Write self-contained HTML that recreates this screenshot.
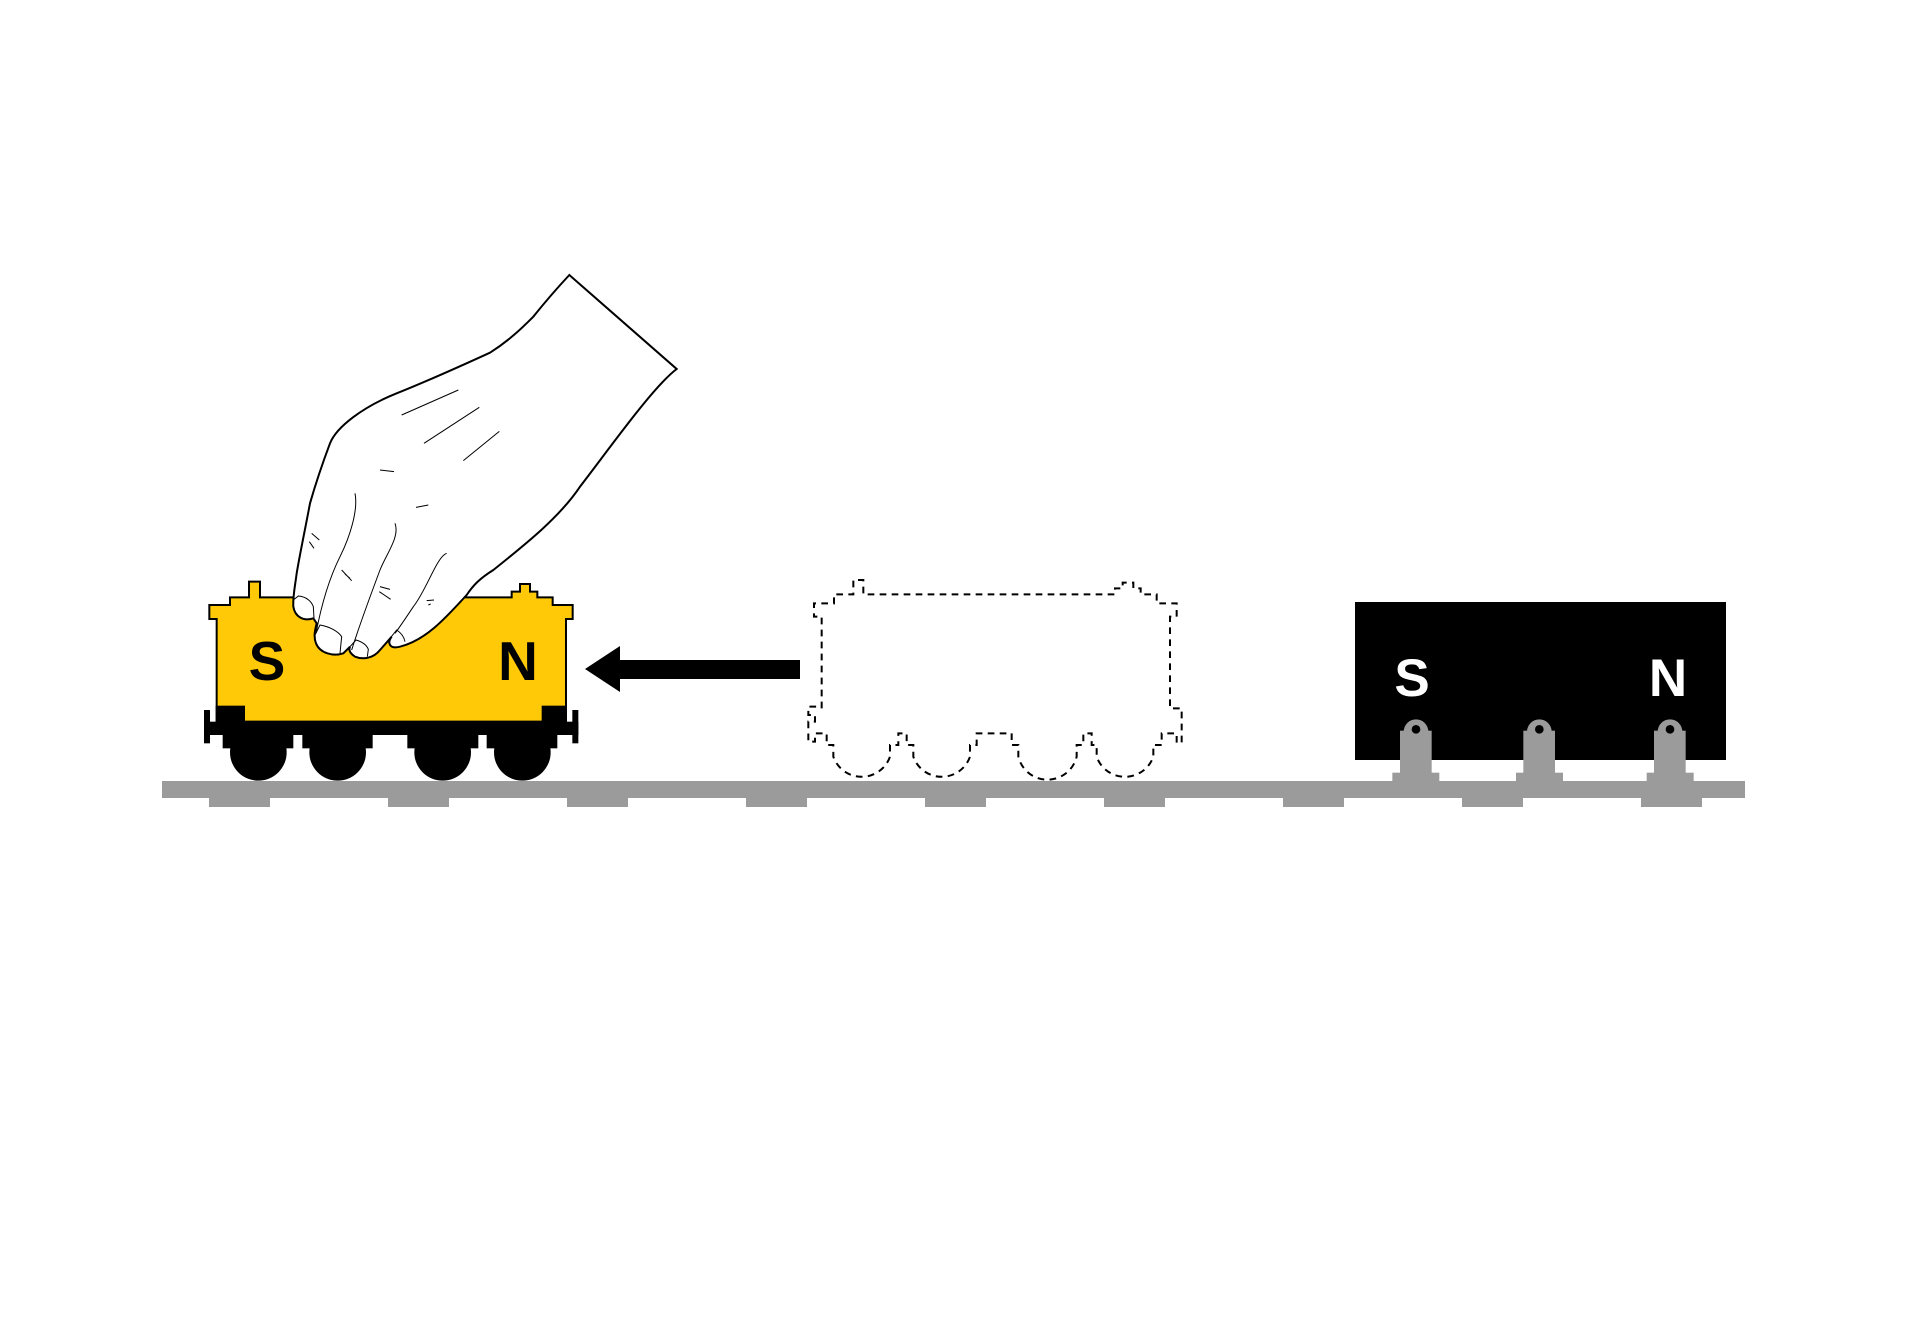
<!DOCTYPE html>
<html><head><meta charset="utf-8"><style>html,body{margin:0;padding:0;background:#fff}svg{display:block}</style></head>
<body>
<svg width="1908" height="1340" viewBox="0 0 1908 1340" xmlns="http://www.w3.org/2000/svg">
<!-- rail -->
<rect x="162" y="781" width="1583" height="17" fill="#9b9b9b"/>
<g fill="#9b9b9b">
<rect x="209" y="797" width="61" height="10"/><rect x="388" y="797" width="61" height="10"/><rect x="567" y="797" width="61" height="10"/>
<rect x="746" y="797" width="61" height="10"/><rect x="925" y="797" width="61" height="10"/><rect x="1104" y="797" width="61" height="10"/>
<rect x="1283" y="797" width="61" height="10"/><rect x="1462" y="797" width="61" height="10"/><rect x="1641" y="797" width="61" height="10"/>
</g>

<!-- yellow car -->
<g transform="translate(150,540) scale(0.3333333)">
<path d="M200,545 L200,237 L178,237 L178,195 L240,195 L240,172 L297,172 L297,125 L330,125 L330,172 L1085,172 L1085,155 L1110,155 L1110,132 L1140,132 L1140,155 L1162,155 L1162,172 L1208,172 L1208,195 L1268,195 L1268,237 L1248,237 L1248,545 Z" fill="#ffc907" stroke="#000" stroke-width="6"/>
<g fill="#000">
<rect x="197" y="497" width="88" height="50"/>
<rect x="1175" y="497" width="76" height="50"/>
<rect x="162" y="545" width="1123" height="40"/>
<rect x="162" y="510" width="18" height="100"/>
<rect x="1267" y="510" width="18" height="100"/>
<rect x="218" y="580" width="212" height="45"/>
<rect x="457" y="580" width="211" height="45"/>
<rect x="772" y="580" width="213" height="45"/>
<rect x="1010" y="580" width="212" height="45"/>
<circle cx="325" cy="637" r="85"/>
<circle cx="563" cy="637" r="85"/>
<circle cx="878" cy="637" r="85"/>
<circle cx="1117" cy="637" r="85"/>
</g>
</g>
<text x="267" y="680" font-family="Liberation Sans, sans-serif" font-weight="bold" font-size="55" text-anchor="middle">S</text>
<text x="518" y="680" font-family="Liberation Sans, sans-serif" font-weight="bold" font-size="55" text-anchor="middle">N</text>

<!-- hand -->
<g transform="translate(280,270) scale(0.3333333)" fill="none" stroke="#000">
<path fill="#fff" stroke-width="6" d="M560,975 C500,1040 440,1110 360,1130 C330,1138 320,1120 335,1100 L300,1140 C280,1165 250,1170 225,1160 C210,1150 205,1140 210,1130 L190,1150 C160,1160 120,1150 108,1120 C100,1100 105,1080 110,1060 L100,1045 C70,1055 45,1040 40,1010 C38,980 45,950 50,910 C60,850 75,780 90,700 C110,630 135,560 150,520 C170,470 250,410 350,370 C450,330 560,280 630,248 C690,210 730,170 760,140 C800,90 840,45 868,15 L1190,297 C1120,350 1000,520 900,650 C840,740 740,820 640,900 C600,925 580,945 560,975 Z"/>
<g stroke-width="3">
<path d="M225,670 C235,720 210,800 180,860 C150,920 125,1000 108,1090"/>
<path d="M345,760 C360,800 320,850 300,900 C270,980 240,1060 215,1140"/>
<path d="M500,850 C470,860 440,960 400,1010 C380,1040 360,1070 345,1090"/>
<path d="M40,990 L55,978 C80,980 95,995 100,1010 L102,1045"/>
<path d="M105,1095 L120,1065 C150,1070 175,1085 185,1100 L180,1150"/>
<path d="M210,1130 L228,1110 C245,1115 260,1125 265,1138 L262,1160"/>
<path d="M330,1105 L350,1080 C365,1090 372,1100 375,1115"/>
<path d="M365,435 L535,360 M432,520 L598,412 M550,572 L658,484 M300,600 L342,605 M408,712 L445,705 M95,790 L118,810 M88,815 L102,835 M185,900 L215,932 M195,912 L210,925 M300,950 L330,958 M298,965 L332,988 M440,992 L462,990 M445,1005 L452,1002"/>
</g>
</g>

<!-- arrow -->
<path d="M585,669 L620,646 L620,660 L800,660 L800,679 L620,679 L620,692 Z" fill="#000"/>

<!-- ghost car -->
<g transform="translate(790,570) scale(0.3333333)">
<path fill="none" stroke="#000" stroke-width="6" stroke-dasharray="20,16" d="M95,415 L95,140 L72,140 L72,100 L132,100 L132,73 L190,73 L190,30 L220,30 L220,73 L975,73 L975,55 L998,55 L998,38 L1030,38 L1030,55 L1052,55 L1052,73 L1100,73 L1100,100 L1160,100 L1160,140 L1140,140 L1140,415 L1175,415 L1175,518 L1160,518 L1160,490 L1115,490 L1115,525 L1090,525 L1090,560 A90,90 0 0 1 920,560 L920,525 L905,525 L905,490 L880,490 L880,525 L860,525 L860,560 A90,90 0 0 1 685,560 L685,525 L665,525 L665,490 L560,490 L560,525 L540,525 L540,560 A90,90 0 0 1 370,560 L370,525 L350,525 L350,490 L325,490 L325,525 L300,525 L300,560 A90,90 0 0 1 130,560 L130,525 L110,525 L110,490 L75,490 L75,515 L55,515 L55,455 L75,455 L75,435 L55,435 L55,410 L95,410 Z"/>
</g>

<!-- black magnet block -->
<rect x="1355" y="602" width="371" height="158" fill="#000"/>
<text x="1412" y="696" font-family="Liberation Sans, sans-serif" font-weight="bold" font-size="53" text-anchor="middle" fill="#fff">S</text>
<text x="1668" y="696" font-family="Liberation Sans, sans-serif" font-weight="bold" font-size="53" text-anchor="middle" fill="#fff">N</text>
<g transform="translate(1340,590) scale(0.3333333)" fill="#9b9b9b">
<g><circle cx="228" cy="425" r="37"/><rect x="180" y="422" width="95" height="130"/><rect x="157" y="548" width="141" height="30"/><circle cx="228" cy="418" r="13" fill="#000"/></g>
<g><circle cx="598" cy="425" r="37"/><rect x="550" y="422" width="95" height="130"/><rect x="528" y="548" width="141" height="30"/><circle cx="598" cy="418" r="13" fill="#000"/></g>
<g><circle cx="990" cy="425" r="37"/><rect x="942" y="422" width="95" height="130"/><rect x="920" y="548" width="141" height="30"/><circle cx="990" cy="418" r="13" fill="#000"/></g>
</g>
</svg>
</body></html>
